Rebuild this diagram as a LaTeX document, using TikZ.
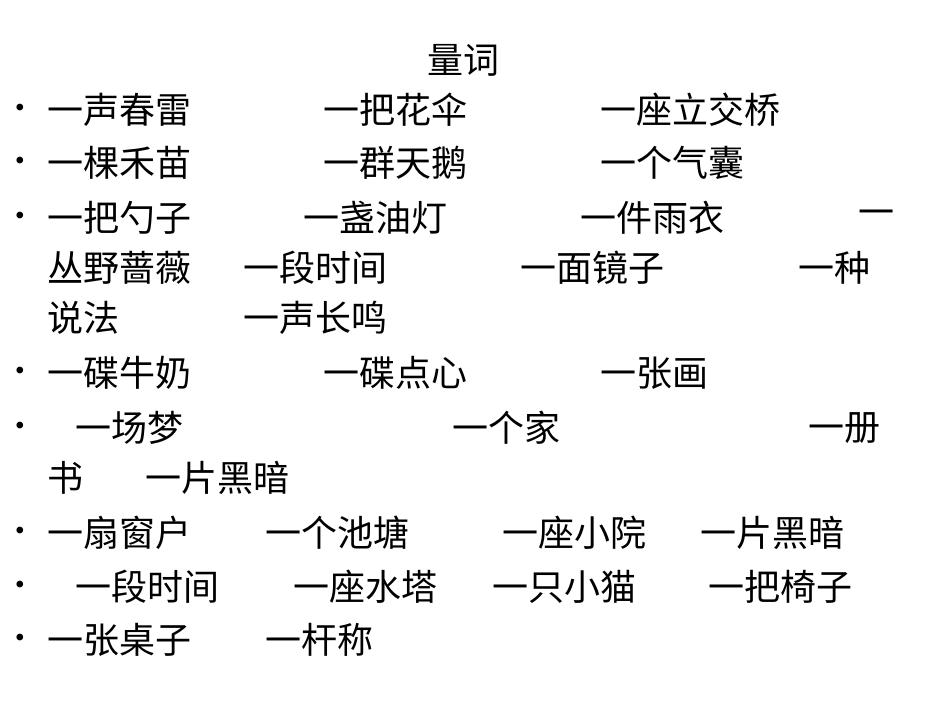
\documentclass[tikz,border=0pt]{standalone}
\usepackage{fontspec}
\newfontfamily\cjk{Noto Sans CJK SC}
\begin{document}
\begin{tikzpicture}[x=1pt,y=-1pt,
  t/.style={anchor=west,inner sep=0pt,font=\cjk\fontsize{36}{40}\selectfont},
  b/.style={anchor=center,inner sep=0pt,font=\fontsize{30}{34}\selectfont}]
\useasboundingbox[fill=white] (0,0) rectangle (950,713);
\node[t,anchor=center] (title) at (463,60) {量词};
\foreach \y/\n in {110/b1,163/b2,218/b3,373/b6,428/b7,533/b9,587/b10,640/b11}
  \node[b] (\n) at (20,\y) {\textbullet};
\node[t] (a1) at (47,110) {一声春雷};
\node[t] (a2) at (323,110) {一把花伞};
\node[t] (a3) at (600,110) {一座立交桥};
\node[t] (c1) at (47,163) {一棵禾苗};
\node[t] (c2) at (323,163) {一群天鹅};
\node[t] (c3) at (600,163) {一个气囊};
\node[t] (d1) at (47,218) {一把勺子};
\node[t] (d2) at (303,218) {一盏油灯};
\node[t] (d3) at (580,218) {一件雨衣};
\node[t] (d4) at (858,218) {一};
\node[t] (e1) at (47,268) {丛野蔷薇};
\node[t] (e2) at (243,268) {一段时间};
\node[t] (e3) at (520,268) {一面镜子};
\node[t] (e4) at (798,268) {一种};
\node[t] (f1) at (47,318) {说法};
\node[t] (f2) at (243,318) {一声长鸣};
\node[t] (g1) at (47,373) {一碟牛奶};
\node[t] (g2) at (323,373) {一碟点心};
\node[t] (g3) at (600,373) {一张画};
\node[t] (h1) at (75,428) {一场梦};
\node[t] (h2) at (452,428) {一个家};
\node[t] (h3) at (808,428) {一册};
\node[t] (i1) at (47,478) {书};
\node[t] (i2) at (145,478) {一片黑暗};
\node[t] (j1) at (47,533) {一扇窗户};
\node[t] (j2) at (265,533) {一个池塘};
\node[t] (j3) at (502,533) {一座小院};
\node[t] (j4) at (700,533) {一片黑暗};
\node[t] (k1) at (75,587) {一段时间};
\node[t] (k2) at (293,587) {一座水塔};
\node[t] (k3) at (492,587) {一只小猫};
\node[t] (k4) at (708,587) {一把椅子};
\node[t] (l1) at (47,640) {一张桌子};
\node[t] (l2) at (265,640) {一杆称};
\end{tikzpicture}
\end{document}
